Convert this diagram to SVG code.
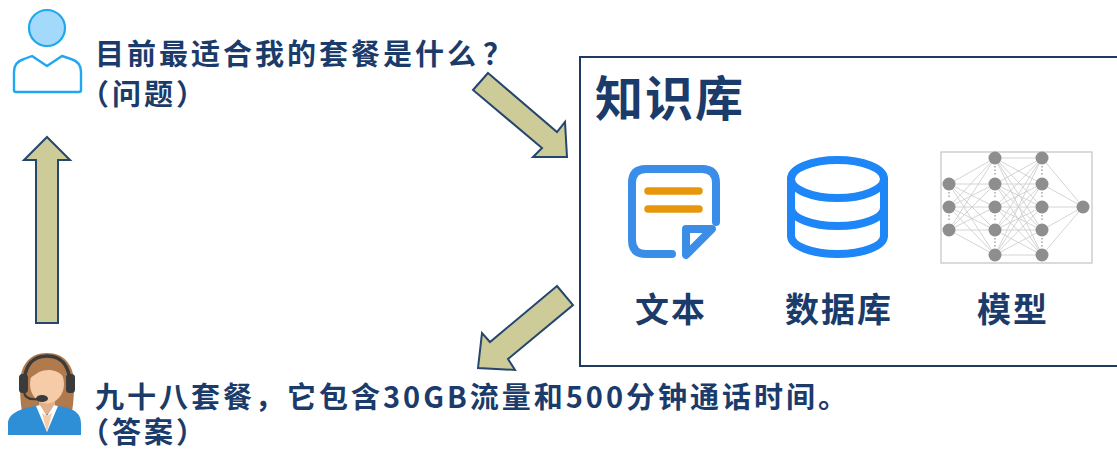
<svg xmlns="http://www.w3.org/2000/svg" width="1117" height="451" viewBox="0 0 1117 451">
  <style>
    .txt { font-family: "Noto Sans CJK SC", "Noto Sans", sans-serif; font-weight: 700; fill: #1B3B6B; }
    .msg { font-size: 29px; letter-spacing: 3px; }
    .ttl { font-size: 48px; letter-spacing: 2px; }
    .lbl { font-size: 34px; letter-spacing: 2px; }
    .blk { fill: #CDCB97; stroke: #24466F; stroke-width: 2; stroke-linejoin: miter; }
    .nn-edge { stroke: #CFCFCF; stroke-width: 0.9; fill: none; }
    .nn-node { fill: #8E8E8E; }
    .nn-dots { stroke: #A8A8A8; stroke-width: 1.5; stroke-dasharray: 1.5 2; }
  </style>

  <!-- user asking -->
  <g id="user">
    <circle cx="47" cy="28" r="18" fill="#A3D9FB" stroke="#1FA8F0" stroke-width="2.2"/>
    <path d="M 14 90 V 72 Q 14 62 24 59 L 32 56 L 47 66 L 62 56 L 71 59 Q 81 62 81 72 V 90 Q 81 92 79 92 H 16 Q 14 92 14 90 Z"
          fill="#FFFFFF" stroke="#1FA8F0" stroke-width="2.4" stroke-linejoin="round"/>
  </g>
  <g id="question">
    <text class="txt msg" x="95" y="65">目前最适合我的套餐是什么<tspan dx="4">？</tspan></text>
    <text class="txt msg" x="80" y="105">（问题）</text>
  </g>

  <!-- customer service agent -->
  <g id="agent">
    <path d="M 47 353 C 29 353 20 366 20 384 C 20 398 21 410 24 419 L 70 419 C 73 410 74 398 74 384 C 74 366 65 353 47 353 Z" fill="#B07A4C"/>
    <rect x="39" y="396" width="16" height="18" fill="#E4B08A"/>
    <ellipse cx="47" cy="384" rx="17" ry="19.5" fill="#F6CBA8"/>
    <path d="M 30 378 C 33 366 42 361 50 362 C 57 363 62 369 64 377 C 58 370 48 368 39 372 Z" fill="#B07A4C"/>
    <path d="M 8 435 V 424 C 8 414 18 410 30 407 L 40 405 L 47 416 L 54 405 L 64 407 C 76 410 81 414 81 424 V 435 Z" fill="#2F8FD6"/>
    <path d="M 36 406 L 47 432 L 58 406 L 54 405 L 47 416 L 40 405 Z" fill="#FFFFFF"/>
    <path d="M 42 413 L 47 432 L 52 413 L 47 416 Z" fill="#F6CBA8"/>
    <path d="M 24 386 C 24 364 34 356 47 356 C 60 356 70 364 70 386" fill="none" stroke="#3B3B3B" stroke-width="3.5"/>
    <rect x="19" y="374" width="9" height="19" rx="3.5" fill="#3B3B3B"/>
    <rect x="66" y="374" width="9" height="19" rx="3.5" fill="#3B3B3B"/>
    <path d="M 24 392 C 25 398 30 400 38 399" fill="none" stroke="#3B3B3B" stroke-width="2.2"/>
    <ellipse cx="42" cy="398.5" rx="6" ry="3.6" fill="#3B3B3B"/>
  </g>
  <g id="answer">
    <text class="txt msg" x="95" y="408">九十八套餐，它包含30GB流量和500分钟通话时间。</text>
    <text class="txt msg" x="80" y="443">（答案）</text>
  </g>

  <!-- knowledge base panel -->
  <g id="knowledge-base">
    <rect x="580" y="57" width="560" height="309" fill="#FFFFFF" stroke="#1F3A5F" stroke-width="2"/>
    <text class="txt ttl" x="595" y="116">知识库</text>
  </g>

  <g id="doc-icon">
    <path d="M 672 254 H 646 Q 632 254 632 240 V 183 Q 632 169 646 169 H 702 Q 716 169 716 183 V 222"
          fill="none" stroke="#3A8EE8" stroke-width="8" stroke-linecap="round" stroke-linejoin="round"/>
    <path d="M 686 229 H 712 L 686 255 Z" fill="#FFFFFF" stroke="#3A8EE8" stroke-width="8" stroke-linejoin="round"/>
    <line x1="648" y1="191" x2="699" y2="191" stroke="#E8960C" stroke-width="7.5" stroke-linecap="round"/>
    <line x1="648" y1="209" x2="699" y2="209" stroke="#E8960C" stroke-width="7.5" stroke-linecap="round"/>
    <text class="txt lbl" x="635" y="322">文本</text>
  </g>

  <g id="database-icon">
    <g fill="none" stroke="#1E86F7" stroke-width="8" stroke-linecap="round">
      <ellipse cx="837.5" cy="179" rx="46.5" ry="19"/>
      <path d="M 791 179 V 236 A 46.5 18 0 0 0 884 236 V 179"/>
      <path d="M 791 208 A 46.5 18 0 0 0 884 208"/>
    </g>
    <text class="txt lbl" x="785" y="322">数据库</text>
  </g>

  <g id="model-icon">
    <rect x="941" y="152" width="151" height="111" fill="#FFFFFF" stroke="#C4C4C4" stroke-width="1.2"/>
    <g class="nn-edge">
      <!-- input layer to hidden layer 1 -->
      <path d="M949 184L995 158M949 184L995 184M949 184L995 207M949 184L995 230M949 184L995 255
               M949 207L995 158M949 207L995 184M949 207L995 207M949 207L995 230M949 207L995 255
               M949 230L995 158M949 230L995 184M949 230L995 207M949 230L995 230M949 230L995 255"/>
      <!-- hidden layer 1 to hidden layer 2 -->
      <path d="M995 158L1042 158M995 158L1042 184M995 158L1042 207M995 158L1042 230M995 158L1042 255
               M995 184L1042 158M995 184L1042 184M995 184L1042 207M995 184L1042 230M995 184L1042 255
               M995 207L1042 158M995 207L1042 184M995 207L1042 207M995 207L1042 230M995 207L1042 255
               M995 230L1042 158M995 230L1042 184M995 230L1042 207M995 230L1042 230M995 230L1042 255
               M995 255L1042 158M995 255L1042 184M995 255L1042 207M995 255L1042 230M995 255L1042 255"/>
      <!-- hidden layer 2 to output -->
      <path d="M1042 158L1083 207M1042 184L1083 207M1042 207L1083 207M1042 230L1083 207M1042 255L1083 207"/>
    </g>
    <g class="nn-dots">
      <path d="M949 192V199M949 215V222M995 166V176M995 192V199M995 215V222M995 238V247
               M1042 166V176M1042 192V199M1042 215V222M1042 238V247"/>
    </g>
    <g class="nn-node">
      <circle cx="949" cy="184" r="6.5"/><circle cx="949" cy="207" r="6.5"/><circle cx="949" cy="230" r="6.5"/>
      <circle cx="995" cy="158" r="6.5"/><circle cx="995" cy="184" r="6.5"/><circle cx="995" cy="207" r="6.5"/>
      <circle cx="995" cy="230" r="6.5"/><circle cx="995" cy="255" r="6.5"/>
      <circle cx="1042" cy="158" r="6.5"/><circle cx="1042" cy="184" r="6.5"/><circle cx="1042" cy="207" r="6.5"/>
      <circle cx="1042" cy="230" r="6.5"/><circle cx="1042" cy="255" r="6.5"/>
      <circle cx="1083" cy="207" r="6.5"/>
    </g>
    <text class="txt lbl" x="977" y="322">模型</text>
  </g>

  <!-- flow arrows -->
  <g id="connectors">
    <polygon class="blk" points="488,73 557,132 565,122 567,157 533,157 542,148 473,90"/>
    <polygon class="blk" points="557,286 490,342 482,333 478,368 515,370 508,359 573,305"/>
    <polygon class="blk" points="47,137 70,160 58,160 58,323 36,323 36,160 24,160"/>
  </g>
</svg>
